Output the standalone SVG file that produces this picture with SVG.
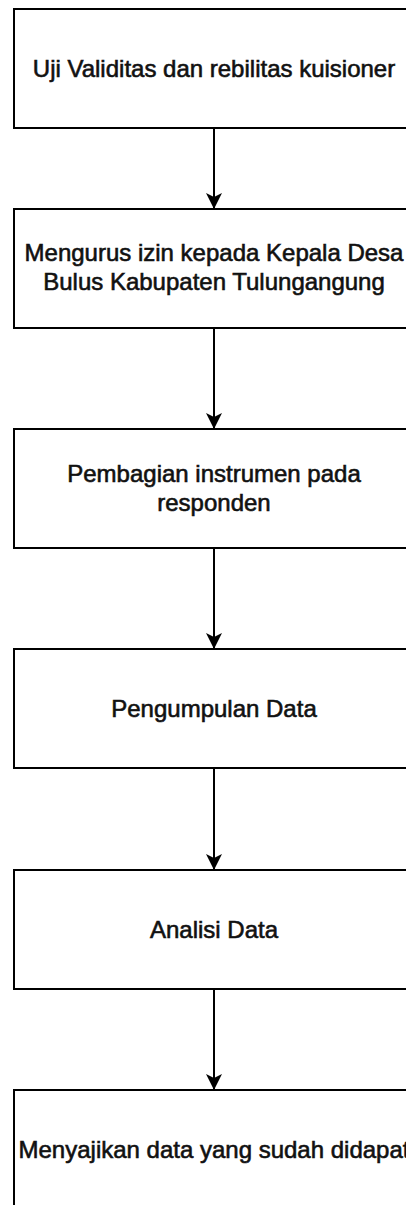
<svg xmlns="http://www.w3.org/2000/svg" width="406" height="1205" viewBox="0 0 406 1205">
  <style>
    .box { fill: #ffffff; stroke: #000000; stroke-width: 2; }
    .lbl { font-family: "Liberation Sans", Arial, sans-serif; font-size: 24px; fill: #111111; stroke: #111111; stroke-width: 0.6; text-anchor: middle; }
    .conn { fill: none; stroke: #000000; stroke-width: 2; }
  </style>
  <defs>
    <marker id="arrow" viewBox="0 0 16 16" markerWidth="16" markerHeight="16" markerUnits="userSpaceOnUse" orient="auto" refX="16" refY="8">
      <path d="M0,0 L16,8 L0,16 L4,8 Z" fill="#000000"/>
    </marker>
  </defs>
  <rect width="406" height="1205" fill="#ffffff"/>

  <g id="node1">
    <rect class="box" x="14" y="9" width="400" height="119"/>
    <text class="lbl" x="214" y="77">Uji Validitas dan rebilitas kuisioner</text>
  </g>
  <g id="node2">
    <rect class="box" x="14" y="209" width="400" height="119"/>
    <text class="lbl" x="214" y="261">Mengurus izin kepada Kepala Desa</text>
    <text class="lbl" x="214" y="290">Bulus Kabupaten Tulungangung</text>
  </g>
  <g id="node3">
    <rect class="box" x="14" y="429" width="400" height="119"/>
    <text class="lbl" x="214" y="482">Pembagian instrumen pada</text>
    <text class="lbl" x="214" y="511">responden</text>
  </g>
  <g id="node4">
    <rect class="box" x="14" y="649" width="400" height="119"/>
    <text class="lbl" x="214" y="717">Pengumpulan Data</text>
  </g>
  <g id="node5">
    <rect class="box" x="14" y="870" width="400" height="119"/>
    <text class="lbl" x="214" y="938">Analisi Data</text>
  </g>
  <g id="node6">
    <rect class="box" x="14" y="1090" width="400" height="125"/>
    <text class="lbl" x="214" y="1158">Menyajikan data yang sudah didapat</text>
  </g>

  <g id="connectors">
    <line class="conn" x1="214" y1="128" x2="214" y2="209" marker-end="url(#arrow)"/>
    <line class="conn" x1="214" y1="328" x2="214" y2="429" marker-end="url(#arrow)"/>
    <line class="conn" x1="214" y1="548" x2="214" y2="649" marker-end="url(#arrow)"/>
    <line class="conn" x1="214" y1="768" x2="214" y2="870" marker-end="url(#arrow)"/>
    <line class="conn" x1="214" y1="989" x2="214" y2="1090" marker-end="url(#arrow)" stroke="#333333"/>
  </g>
</svg>
